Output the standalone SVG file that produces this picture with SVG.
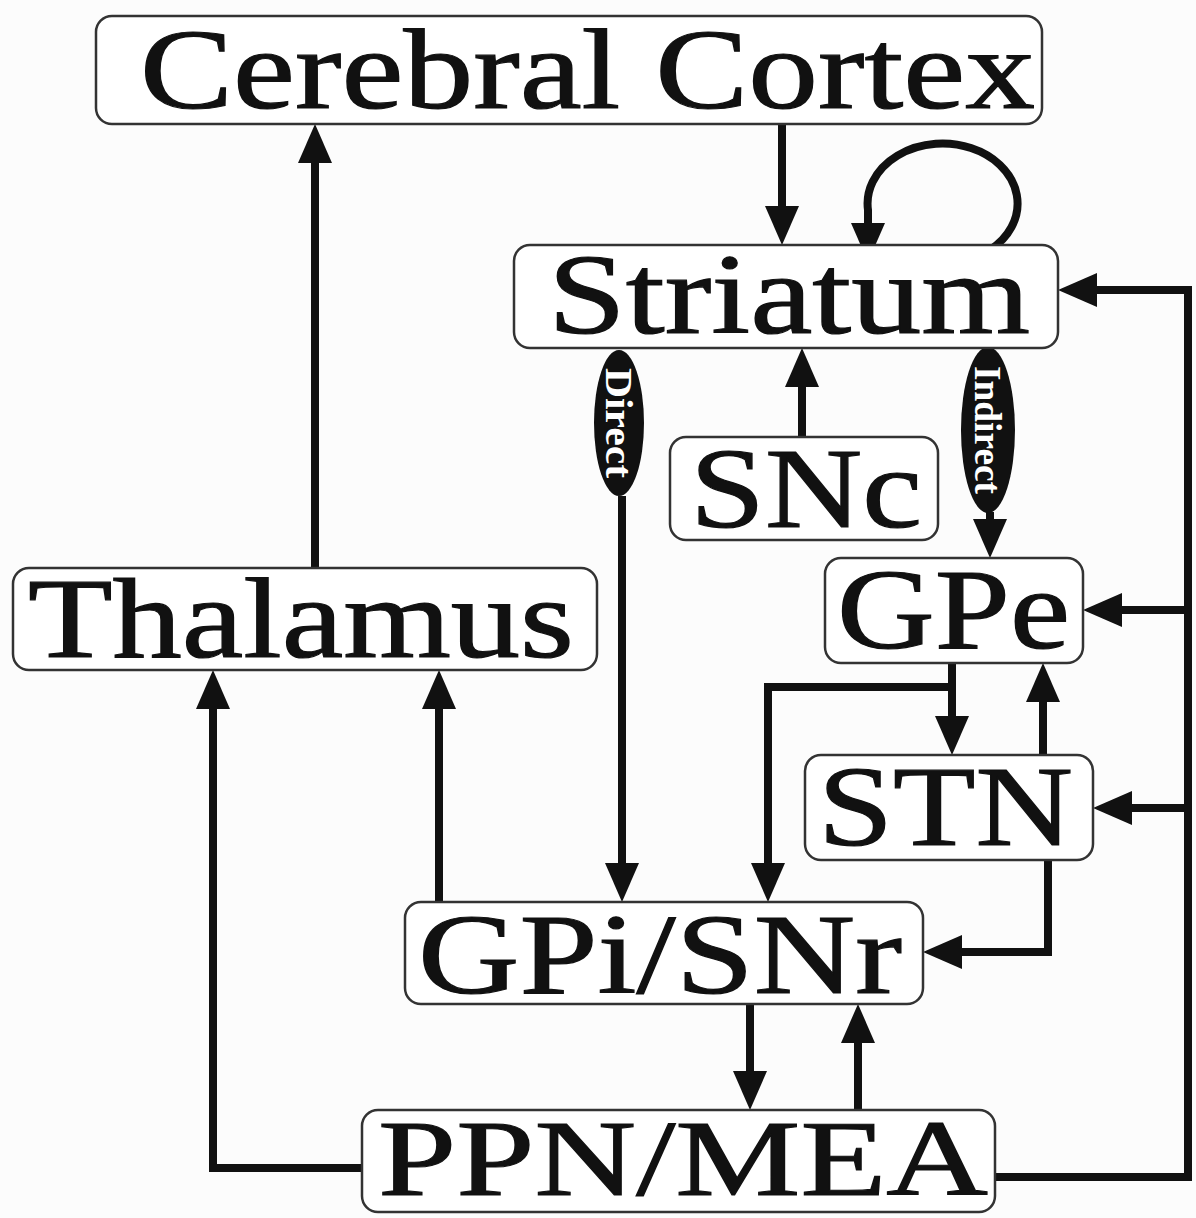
<svg xmlns="http://www.w3.org/2000/svg" width="1196" height="1218" viewBox="0 0 1196 1218">
<style>
.box{fill:#fff;stroke:#333;stroke-width:2.5}
.lbl{font-family:"Liberation Serif","Times New Roman",serif;font-size:115px;fill:#111;stroke:#111;stroke-width:1.2}
.wire{fill:none;stroke:#111;stroke-width:8}
.arr{marker-end:url(#ah)}
.pill{fill:#111}
.pt{font-family:"Liberation Serif","Times New Roman",serif;font-weight:bold;font-size:38px;fill:#fff}
</style>
<defs>
<marker id="ah" markerUnits="userSpaceOnUse" viewBox="-29 -17 39 34" refX="0" refY="0" markerWidth="39" markerHeight="34" orient="auto">
<path d="M-29,-17 L10,0 L-29,17 z" fill="#111"/>
</marker>
</defs>
<rect width="1196" height="1218" fill="#fcfcfc"/>

<g id="connectors">
<path class="wire arr" d="M315 568 V134"/>
<path class="wire arr" d="M782 124 V235"/>
<path class="wire arr" d="M990 250 A75 60 0 1 0 868 210 V252"/>
<path class="wire arr" d="M802 437 V358"/>
<path class="wire arr" d="M622 496 V892"/>
<path class="wire arr" d="M990 512 V548"/>
<path class="wire" d="M995 1177 H1188 V290"/>
<path class="wire arr" d="M1192 290 H1068"/>
<path class="wire arr" d="M1188 610 H1093"/>
<path class="wire arr" d="M1188 808 H1103"/>
<path class="wire arr" d="M952 663 V745"/>
<path class="wire arr" d="M952 687 H768 V892"/>
<path class="wire arr" d="M1043 755 V673"/>
<path class="wire arr" d="M1048 860 V952 H933"/>
<path class="wire arr" d="M439 902 V680"/>
<path class="wire arr" d="M750 1004 V1100"/>
<path class="wire arr" d="M858 1110 V1014"/>
<path class="wire arr" d="M362 1168 H213 V680"/>
</g>

<g id="direct">
<ellipse class="pill" cx="619" cy="423" rx="25" ry="73"/>
<text class="pt" x="619" y="423" text-anchor="middle" dominant-baseline="central" transform="rotate(90 619 423)" textLength="110" lengthAdjust="spacingAndGlyphs">Direct</text>
</g>
<g id="indirect">
<ellipse class="pill" cx="988" cy="430" rx="27" ry="83"/>
<text class="pt" x="988" y="430" text-anchor="middle" dominant-baseline="central" transform="rotate(90 988 430)" textLength="128" lengthAdjust="spacingAndGlyphs">Indirect</text>
</g>

<g id="cortex">
<rect class="box" x="96" y="16" width="946" height="108" rx="16"/>
<text class="lbl" x="140" y="108" textLength="895" lengthAdjust="spacingAndGlyphs">Cerebral Cortex</text>
</g>
<g id="striatum">
<rect class="box" x="514" y="245" width="544" height="103" rx="16"/>
<text class="lbl" x="548" y="333" textLength="482" lengthAdjust="spacingAndGlyphs">Striatum</text>
</g>
<g id="snc">
<rect class="box" x="670" y="437" width="268" height="103" rx="16"/>
<text class="lbl" x="690" y="527" textLength="232" lengthAdjust="spacingAndGlyphs">SNc</text>
</g>
<g id="thalamus">
<rect class="box" x="13" y="568" width="584" height="102" rx="16"/>
<text class="lbl" x="28" y="657" textLength="546" lengthAdjust="spacingAndGlyphs">Thalamus</text>
</g>
<g id="gpe">
<rect class="box" x="825" y="558" width="258" height="105" rx="16"/>
<text class="lbl" x="837" y="648" textLength="233" lengthAdjust="spacingAndGlyphs">GPe</text>
</g>
<g id="stn">
<rect class="box" x="805" y="755" width="288" height="105" rx="16"/>
<text class="lbl" x="818" y="845" textLength="255" lengthAdjust="spacingAndGlyphs">STN</text>
</g>
<g id="gpi">
<rect class="box" x="405" y="902" width="518" height="102" rx="16"/>
<text class="lbl" x="418" y="993" textLength="484" lengthAdjust="spacingAndGlyphs">GPi/SNr</text>
</g>
<g id="ppn">
<rect class="box" x="362" y="1110" width="633" height="102" rx="16"/>
<text class="lbl" x="378" y="1195" style="font-size:108px" textLength="610" lengthAdjust="spacingAndGlyphs">PPN/MEA</text>
</g>
</svg>
